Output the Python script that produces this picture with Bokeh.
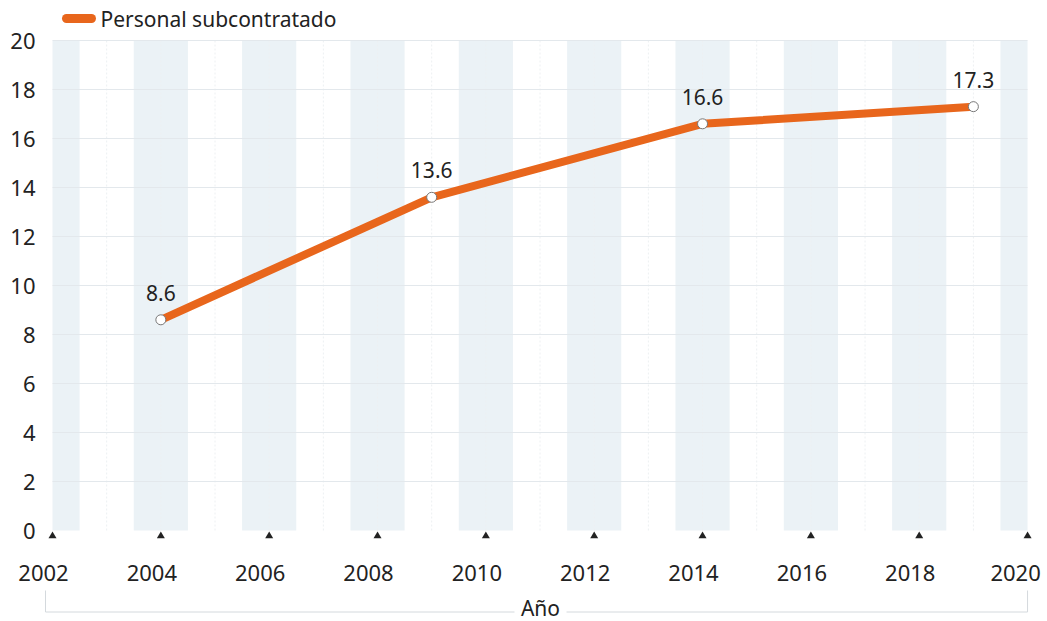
from bokeh.plotting import figure
from bokeh.models import Range1d
from bokeh.core.properties import value
from bokeh.embed import file_html
from bokeh.resources import INLINE

# ---- data ----
years = [2004, 2009, 2014, 2019]
values = [8.6, 13.6, 16.6, 17.3]
value_labels = ["8.6", "13.6", "16.6", "17.3"]
x_ticks = [2002, 2004, 2006, 2008, 2010, 2012, 2014, 2016, 2018, 2020]
x_tick_labels = [str(t) for t in x_ticks]
y_ticks = [0, 2, 4, 6, 8, 10, 12, 14, 16, 18, 20]
y_tick_labels = [str(t) for t in y_ticks]
series_name = "Personal subcontratado"
x_title = "Año"

FONT = "Noto Sans"
ORANGE = "#e8661c"
BAND = "#ebf2f6"
TXT = "#222222"
X0, X1 = 2002, 2020
Y0, Y1 = 0, 20

W, H = 1047, 620
PX_YEAR = 54.17   # px per year
PX_UNIT = 24.5    # px per y unit
LEFT_PX = 52      # page x of 2002
ZERO_PX = 530     # page y of 0

x_start = X0 - LEFT_PX / PX_YEAR
x_end = x_start + W / PX_YEAR
y_end = ZERO_PX / PX_UNIT
y_start = y_end - H / PX_UNIT

p = figure(width=W, height=H, output_backend="svg", toolbar_location=None,
           x_range=Range1d(x_start, x_end), y_range=Range1d(y_start, y_end),
           x_axis_location=None, y_axis_location=None,
           min_border_left=0, min_border_right=0, min_border_top=0, min_border_bottom=0)
p.outline_line_color = None
p.grid.visible = False
p.background_fill_color = "white"
p.border_fill_color = "white"

# alternating bands centered on even years
lefts = [max(X0, t - 0.5) for t in x_ticks]
rights = [min(X1, t + 0.5) for t in x_ticks]
p.quad(left=lefts, right=rights, bottom=Y0, top=Y1, fill_color=BAND, line_color=None)

# faint vertical lines at each year
all_years = list(range(X0 + 1, X1))
p.segment(x0=all_years, y0=Y0, x1=all_years, y1=Y1, line_color="#edf0f2", line_width=1,
          line_dash="2 2")

# horizontal grid
p.segment(x0=X0, y0=y_ticks[1:], x1=X1, y1=y_ticks[1:], line_color="#e3e8ec", line_width=1)

# y tick labels
p.text(x=[X0 - 17 / PX_YEAR] * len(y_ticks), y=y_ticks, text=y_tick_labels,
       text_font=value(FONT), text_font_size="22px", text_align="right",
       text_baseline="middle", text_color=TXT)

# tick triangles
p.scatter(x=x_ticks, y=[-5.5 / PX_UNIT] * len(x_ticks), marker="triangle", size=8,
          fill_color=TXT, line_color=None)

# x tick labels (drawn slightly left of their ticks, as in the original)
lab_x = [min(t - 9 / PX_YEAR, X1 - 12 / PX_YEAR) for t in x_ticks]
p.text(x=lab_x, y=[-42 / PX_UNIT] * len(x_ticks), text=x_tick_labels, text_font=value(FONT),
       text_font_size="22px", text_align="center", text_baseline="middle", text_color=TXT)

# axis title with bracket
xt = X0 + (540 - LEFT_PX) / PX_YEAR
p.text(x=[xt], y=[-77 / PX_UNIT], text=[x_title], text_font=value(FONT), text_font_size="21px",
       text_align="center", text_baseline="middle", text_color=TXT)
br_y = -81.5 / PX_UNIT
br_top = -60 / PX_UNIT
bl = X0 - 7 / PX_YEAR
gap = 26 / PX_YEAR
p.segment(x0=[bl, xt + gap], y0=[br_y, br_y], x1=[xt - gap, X1], y1=[br_y, br_y],
          line_color="#d4d9dd", line_width=1)
p.segment(x0=[bl, X1], y0=[br_top, br_top], x1=[bl, X1], y1=[br_y, br_y],
          line_color="#d4d9dd", line_width=1)

# data line
p.line(x=years, y=values, line_color=ORANGE, line_width=8, line_cap="round", line_join="round")

# markers
p.scatter(x=years, y=values, size=10, fill_color="white", line_color="#777777", line_width=1)

# value labels
p.text(x=years, y=[v + 27 / PX_UNIT for v in values], text=value_labels, text_font=value(FONT),
       text_font_size="21px", text_align="center", text_baseline="middle", text_color=TXT)

# legend
leg_y = (ZERO_PX - 18) / PX_UNIT
p.segment(x0=[X0 + 14 / PX_YEAR], y0=[leg_y], x1=[X0 + 39 / PX_YEAR], y1=[leg_y],
          line_color=ORANGE, line_width=9, line_cap="round")
p.text(x=[X0 + 48 / PX_YEAR], y=[leg_y], text=[series_name], text_font=value(FONT),
       text_font_size="21px", text_align="left", text_baseline="middle", text_color=TXT)

open("out.html", "w").write(file_html(p, INLINE))
